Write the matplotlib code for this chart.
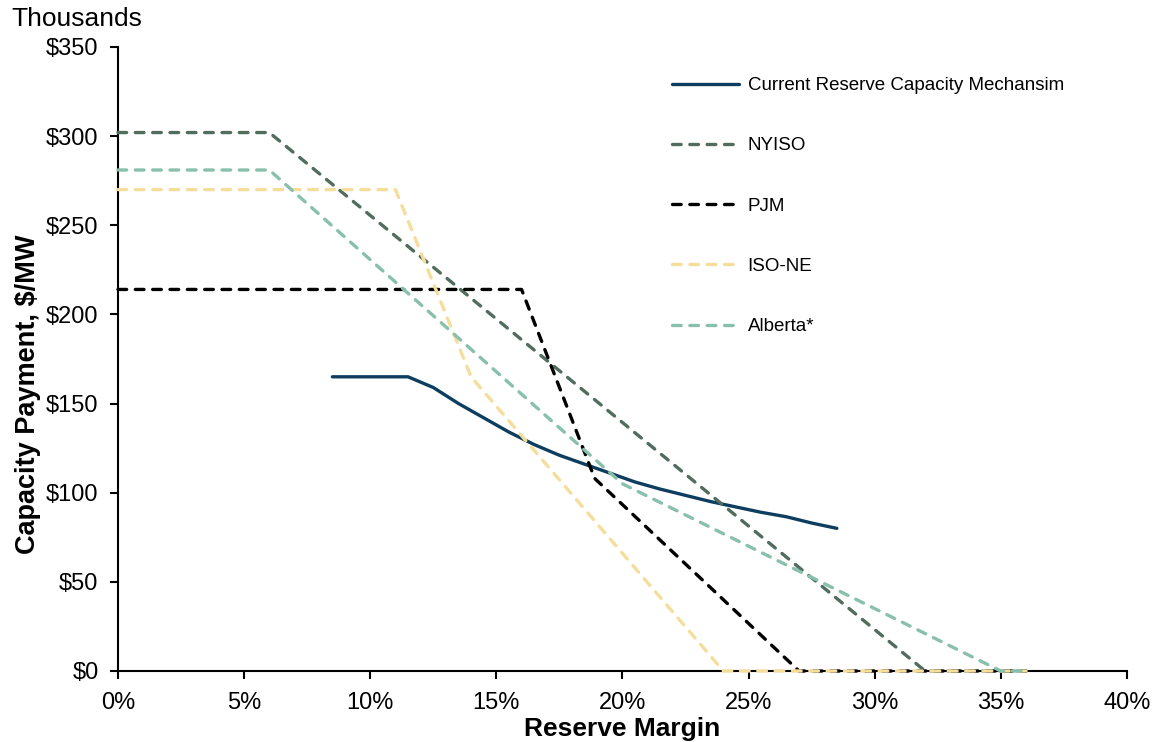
import matplotlib.pyplot as plt
import numpy as np

plt.rcParams['font.family'] = ['Liberation Sans', 'DejaVu Sans']

# reserve margin (%) and capacity payment ($ thousands / MW)
current_x = [8.5, 9.5, 10.5, 11.5, 12.5, 13.5, 14.5, 15.5, 16.5, 17.5, 18.5,
             19.5, 20.5, 21.5, 22.5, 23.5, 24.5, 25.5, 26.5, 27.5, 28.5]
current_y = [165, 165, 165, 165, 159, 150, 142, 134, 127, 121, 116,
             111, 106, 102, 98.5, 95, 92, 89, 86.5, 83, 80]

nyiso_x = [0, 6, 32, 36]
nyiso_y = [302, 302, 0, 0]

pjm_x = [0, 16, 18.9, 27, 36]
pjm_y = [214, 214, 108, 0, 0]

isone_x = [0, 11, 14, 24, 36]
isone_y = [270, 270, 165, 0, 0]

alberta_x = [0, 6, 20, 35, 36]
alberta_y = [281, 281, 105, 0, 0]

fig = plt.figure(figsize=(11.59, 7.42), dpi=100)
ax = fig.add_axes([0.1018, 0.0957, 0.8705, 0.841])

dash = (0, (2.6, 2.6))
ax.plot(current_x, current_y, color='#0d3d5f', lw=2.4, solid_capstyle='round',
        label='Current Reserve Capacity Mechansim')
ax.plot(nyiso_x, nyiso_y, color='#506d5e', lw=2.4, ls=dash, dash_capstyle='round',
        label='NYISO', clip_on=False, zorder=3)
ax.plot(pjm_x, pjm_y, color='#000000', lw=2.4, ls=dash, dash_capstyle='round',
        label='PJM', clip_on=False, zorder=3)
ax.plot(isone_x, isone_y, color='#f5dd9c', lw=2.4, ls=dash, dash_capstyle='round',
        label='ISO-NE', clip_on=False, zorder=3)
ax.plot(alberta_x, alberta_y, color='#88c0ab', lw=2.4, ls=dash, dash_capstyle='round',
        label='Alberta*', clip_on=False, zorder=3)

ax.set_xlim(0, 40)
ax.set_ylim(0, 350)
ax.set_xticks(np.arange(0, 41, 5))
ax.set_xticklabels(['%d%%' % v for v in range(0, 41, 5)])
ax.set_yticks(np.arange(0, 351, 50))
ax.set_yticklabels(['$%d' % v for v in range(0, 351, 50)])
ax.tick_params(labelsize=17, direction='out', length=6, width=1.5)
ax.tick_params(axis='y', pad=8)
ax.tick_params(axis='x', pad=9)
for s in ['top', 'right']:
    ax.spines[s].set_visible(False)
for s in ['left', 'bottom']:
    ax.spines[s].set_linewidth(1.5)

ax.set_xlabel('Reserve Margin', fontsize=19, fontweight='bold', labelpad=2)
ax.set_ylabel('Capacity Payment, $/MW', fontsize=19.5, fontweight='bold')
ax.yaxis.set_label_coords(-0.076, 0.444)
fig.text(0.010, 0.975, 'Thousands', fontsize=19, va='center')

ax.legend(loc='upper left', bbox_to_anchor=(0.532, 0.979), frameon=False, fontsize=13.5,
          labelspacing=2.3, handlelength=3.6, handletextpad=0.45)

fig.savefig('out.png', dpi=100)
